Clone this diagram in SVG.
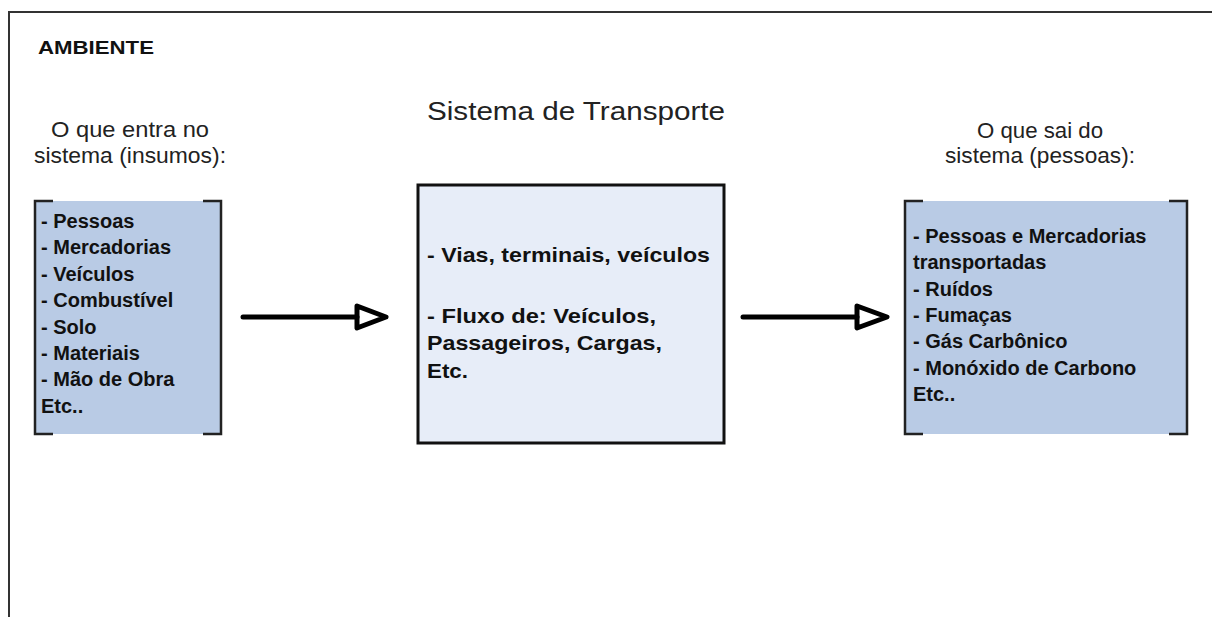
<svg xmlns="http://www.w3.org/2000/svg" width="1212" height="617" viewBox="0 0 1212 617">
<style>
.frame{fill:none;stroke:#333;stroke-width:2}
.bracket{fill:none;stroke:#222;stroke-width:2.5}
.side{fill:#b9cbe5;stroke:none}
.center{fill:#e7edf8;stroke:#111;stroke-width:3}
.t{font-family:"Liberation Sans",Arial,sans-serif;fill:#222}
.b{font-family:"Liberation Sans",Arial,sans-serif;font-weight:bold;fill:#111}
.arrow{fill:none;stroke:#000;stroke-width:5;stroke-linecap:round;stroke-linejoin:round}
</style>
<rect width="1212" height="617" fill="#fff"/>
<g id="ambiente">
<path class="frame" d="M9,617 V12 H1212"/>
<text class="b" x="38" y="54" font-size="18" textLength="116" lengthAdjust="spacingAndGlyphs">AMBIENTE</text>
</g>
<g id="title">
<text class="t" x="427" y="120" font-size="26" textLength="298" lengthAdjust="spacingAndGlyphs">Sistema de Transporte</text>
</g>
<g id="entrada-label">
<text class="t" x="130" y="137" font-size="22" text-anchor="middle" textLength="158" lengthAdjust="spacingAndGlyphs">O que entra no</text>
<text class="t" x="130" y="163" font-size="22" text-anchor="middle" textLength="192" lengthAdjust="spacingAndGlyphs">sistema (insumos):</text>
</g>
<g id="saida-label">
<text class="t" x="1040" y="138" font-size="22" text-anchor="middle" textLength="126" lengthAdjust="spacingAndGlyphs">O que sai do</text>
<text class="t" x="1040" y="163" font-size="22" text-anchor="middle" textLength="190" lengthAdjust="spacingAndGlyphs">sistema (pessoas):</text>
</g>
<g id="insumos">
<rect class="side" x="35" y="201" width="186" height="233"/>
<path class="bracket" d="M53,201 H35 V434 H53 M203,201 H221 V434 H203"/>
<text class="b" x="41" font-size="20">
<tspan x="41" y="228">- Pessoas</tspan>
<tspan x="41" y="254">- Mercadorias</tspan>
<tspan x="41" y="281">- Veículos</tspan>
<tspan x="41" y="307">- Combustível</tspan>
<tspan x="41" y="334">- Solo</tspan>
<tspan x="41" y="360">- Materiais</tspan>
<tspan x="41" y="386">- Mão de Obra</tspan>
<tspan x="41" y="413">Etc..</tspan>
</text>
</g>
<g id="sistema">
<rect class="center" x="418" y="185" width="306" height="258"/>
<text class="b" x="427" y="262" font-size="21" textLength="283" lengthAdjust="spacingAndGlyphs">- Vias, terminais, veículos</text>
<text class="b" x="427" y="323" font-size="21" textLength="229" lengthAdjust="spacingAndGlyphs">- Fluxo de: Veículos,</text>
<text class="b" x="427" y="350" font-size="21" textLength="235" lengthAdjust="spacingAndGlyphs">Passageiros, Cargas,</text>
<text class="b" x="427" y="378" font-size="21" textLength="41" lengthAdjust="spacingAndGlyphs">Etc.</text>
</g>
<g id="saidas">
<rect class="side" x="905" y="201" width="282" height="233"/>
<path class="bracket" d="M923,201 H905 V434 H923 M1169,201 H1187 V434 H1169"/>
<text class="b" font-size="20">
<tspan x="913" y="243">- Pessoas e Mercadorias</tspan>
<tspan x="913" y="269">transportadas</tspan>
<tspan x="913" y="296">- Ruídos</tspan>
<tspan x="913" y="322">- Fumaças</tspan>
<tspan x="913" y="348">- Gás Carbônico</tspan>
<tspan x="913" y="375">- Monóxido de Carbono</tspan>
<tspan x="913" y="401">Etc..</tspan>
</text>
</g>
<g id="connectors">
<path class="arrow" d="M243,317 H357"/>
<path class="arrow" d="M357,306 L386,317 L357,328 Z"/>
<path class="arrow" d="M743,317 H857"/>
<path class="arrow" d="M857,306 L887,317 L857,328 Z"/>
</g>
</svg>
